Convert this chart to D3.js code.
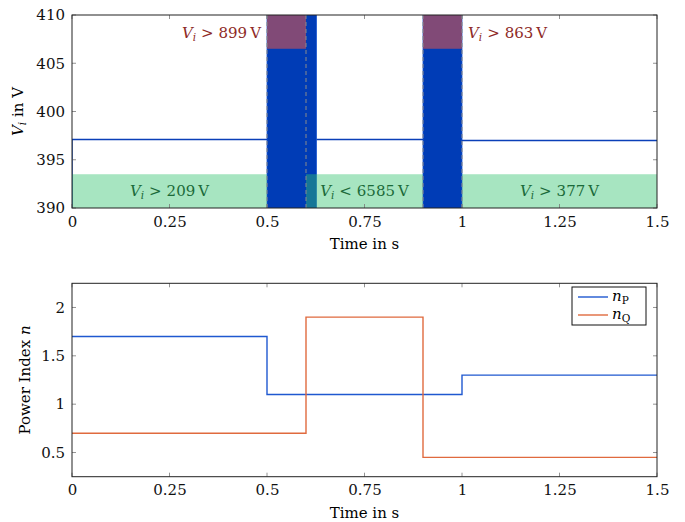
<!DOCTYPE html>
<html>
<head>
<meta charset="utf-8">
<script src="https://cdn.jsdelivr.net/npm/d3@7"></script>
<style>
  body { margin: 0; background: #fff; }
</style>
</head>
<body>
<svg id="chart" width="685" height="522" font-family="'DejaVu Serif', serif"></svg>
<script>
// ---- data ----
const timeTicks = [0, 0.25, 0.5, 0.75, 1, 1.25, 1.5];
const voltTicks = [390, 395, 400, 405, 410];
const indexTicks = [0.5, 1, 1.5, 2];

// steady voltage trace (segments between the oscillating bursts)
const voltSegments = [
  [[0, 380], [0, 397.1], [0.5, 397.1]],
  [[0.627, 397.1], [0.9, 397.1]],
  [[1.0, 397.0], [1.5, 397.0]]
];
// oscillation bursts: start, end, min, max
const burstStart = [0.5, 0.9];
const burstEnd = [0.627, 1.0];
const burstMin = [380, 380];
const burstMax = [420, 420];

// limit bands (lower: green, upper: red)
const lowerStart = [0, 0.6, 1.0];
const lowerEnd = [0.5, 0.9, 1.5];
const lowerOp = [">", "<", ">"];
const lowerValue = [209, 6585, 377];
const lowerTop = 393.5;

const upperStart = [0.5, 0.9];
const upperEnd = [0.6, 1.0];
const upperValue = [899, 863];
const upperBottom = 406.5;

const eventTimes = [0.5, 0.6, 0.9, 1.0];

// power index steps
const stepTimes = [0, 0.5, 0.6, 0.9, 1.0, 1.5];
const nP = [1.7, 1.1, 1.1, 1.1, 1.3, 1.3];
const nQ = [0.7, 0.7, 1.9, 0.45, 0.45, 0.45];

// ---- layout ----
const FONT = "'DejaVu Serif', serif";
const FS = 15;
const SUB = 10.5;
const svg = d3.select("#chart");
const left = 72, right = 657;
const top1 = 15, bot1 = 208;
const top2 = 283.3, bot2 = 476.7;
const blue = "#0a3fb8", orange = "#e06a3e", lineBlue = "#1f58d0";

const x = d3.scaleLinear().domain([0, 1.5]).range([left, right]);
const y1 = d3.scaleLinear().domain([390, 410]).range([bot1, top1]);
const y2 = d3.scaleLinear().domain([0.25, 2.25]).range([bot2, top2]);

const defs = svg.append("defs");
defs.append("clipPath").attr("id", "clip1").append("rect")
  .attr("x", left).attr("y", top1).attr("width", right - left).attr("height", bot1 - top1);
defs.append("clipPath").attr("id", "clip2").append("rect")
  .attr("x", left).attr("y", top2).attr("width", right - left).attr("height", bot2 - top2);

function frame(yScale, yTicks, top, bot) {
  const tk = 4;
  const g = svg.append("g");
  // tick labels
  const xb = g.append("g").attr("transform", `translate(0,${bot})`)
    .call(d3.axisBottom(x).tickValues(timeTicks).tickFormat(d3.format("~g")).tickSize(0).tickPadding(8));
  xb.select(".domain").remove();
  const yl = g.append("g").attr("transform", `translate(${left},0)`)
    .call(d3.axisLeft(yScale).tickValues(yTicks).tickFormat(d3.format("~g")).tickSize(0).tickPadding(7));
  yl.select(".domain").remove();
  [xb, yl].forEach(a => a.attr("font-family", FONT).attr("font-size", FS)
    .selectAll("text").attr("fill", "#111"));
  // inward ticks on all four sides
  const tg = g.append("g").attr("stroke", "#777").attr("stroke-width", 0.8);
  timeTicks.forEach(t => {
    tg.append("line").attr("x1", x(t)).attr("x2", x(t)).attr("y1", bot).attr("y2", bot - tk);
    tg.append("line").attr("x1", x(t)).attr("x2", x(t)).attr("y1", top).attr("y2", top + tk);
  });
  yTicks.forEach(v => {
    tg.append("line").attr("x1", left).attr("x2", left + tk).attr("y1", yScale(v)).attr("y2", yScale(v));
    tg.append("line").attr("x1", right).attr("x2", right - tk).attr("y1", yScale(v)).attr("y2", yScale(v));
  });
  g.append("rect").attr("x", left).attr("y", top).attr("width", right - left).attr("height", bot - top)
    .attr("fill", "none").attr("stroke", "#222").attr("stroke-width", 1);
  g.append("text").attr("font-family", FONT).attr("font-size", FS)
    .attr("x", (left + right) / 2).attr("y", bot + 41)
    .attr("text-anchor", "middle").text("Time in s");
  return g;
}

function viLabel(sel, op, value) {
  sel.append("tspan").attr("font-style", "italic").text("V");
  sel.append("tspan").attr("font-style", "italic").attr("font-size", SUB).attr("dy", 3).text("i");
  sel.append("tspan").attr("dy", -3).text(`\u2004${op}\u2004${value}\u2009V`);
}

// ---- top plot ----
const p1 = svg.append("g").attr("clip-path", "url(#clip1)");

p1.selectAll(".burst").data(burstStart).join("rect")
  .attr("x", (d) => x(d))
  .attr("width", (d, i) => x(burstEnd[i]) - x(d))
  .attr("y", (d, i) => y1(burstMax[i]))
  .attr("height", (d, i) => y1(burstMin[i]) - y1(burstMax[i]))
  .attr("fill", "#003cb6").attr("stroke", lineBlue).attr("stroke-width", 0.8);

const line1 = d3.line().x(d => x(d[0])).y(d => y1(d[1]));
p1.selectAll(".seg").data(voltSegments).join("path")
  .attr("d", line1).attr("fill", "none").attr("stroke", blue).attr("stroke-width", 1.4);

p1.selectAll(".low").data(lowerStart).join("rect")
  .attr("x", d => x(d)).attr("width", (d, i) => x(lowerEnd[i]) - x(d))
  .attr("y", y1(lowerTop)).attr("height", y1(390) - y1(lowerTop))
  .attr("fill", "#33c26f").attr("fill-opacity", 0.43);

p1.selectAll(".up").data(upperStart).join("rect")
  .attr("x", d => x(d)).attr("width", (d, i) => x(upperEnd[i]) - x(d))
  .attr("y", y1(410)).attr("height", y1(upperBottom) - y1(410))
  .attr("fill", "#814a77");

p1.selectAll(".evt").data(eventTimes).join("line")
  .attr("x1", d => x(d)).attr("x2", d => x(d)).attr("y1", top1).attr("y2", bot1)
  .attr("stroke", "#8a8a8a").attr("stroke-width", 1).attr("stroke-dasharray", "4,3");

frame(y1, voltTicks, top1, bot1);

svg.append("text").attr("font-family", FONT).attr("font-size", FS)
  .attr("transform", `translate(23,${(top1 + bot1) / 2}) rotate(-90)`)
  .attr("text-anchor", "middle")
  .call(s => {
    s.append("tspan").attr("font-style", "italic").text("V");
    s.append("tspan").attr("font-style", "italic").attr("font-size", SUB).attr("dy", 3).text("i");
    s.append("tspan").attr("dy", -3).text(" in V");
  });

// lower band labels
lowerStart.forEach((s, i) => {
  svg.append("text").attr("font-family", FONT).attr("font-size", FS)
    .attr("x", x((s + lowerEnd[i]) / 2)).attr("y", y1((390 + lowerTop) / 2) + 5)
    .attr("text-anchor", "middle").attr("fill", "#1b6a39")
    .call(t => viLabel(t, lowerOp[i], lowerValue[i]));
});
// upper band labels
svg.append("text").attr("font-family", FONT).attr("font-size", FS)
  .attr("x", x(upperStart[0]) - 6).attr("y", y1((410 + upperBottom) / 2) + 6)
  .attr("text-anchor", "end").attr("fill", "#8e2a26")
  .call(t => viLabel(t, ">", upperValue[0]));
svg.append("text").attr("font-family", FONT).attr("font-size", FS)
  .attr("x", x(upperEnd[1]) + 6).attr("y", y1((410 + upperBottom) / 2) + 6)
  .attr("text-anchor", "start").attr("fill", "#8e2a26")
  .call(t => viLabel(t, ">", upperValue[1]));

// ---- bottom plot ----
const p2 = svg.append("g").attr("clip-path", "url(#clip2)");
const step = (vals) => d3.line().curve(d3.curveStepAfter)
  .x((d, i) => x(stepTimes[i])).y(d => y2(d))(vals);
p2.append("path").attr("d", step(nP)).attr("fill", "none").attr("stroke", lineBlue).attr("stroke-width", 1.4);
p2.append("path").attr("d", step(nQ)).attr("fill", "none").attr("stroke", orange).attr("stroke-width", 1.4);

frame(y2, indexTicks, top2, bot2);

svg.append("text").attr("font-family", FONT).attr("font-size", FS)
  .attr("transform", `translate(30,${(top2 + bot2) / 2}) rotate(-90)`)
  .attr("text-anchor", "middle")
  .call(s => {
    s.append("tspan").text("Power Index ");
    s.append("tspan").attr("font-style", "italic").text("n");
  });

// legend
const legendNames = ["P", "Q"];
const legendColors = [lineBlue, orange];
const lg = svg.append("g").attr("transform", "translate(572,287)");
lg.append("rect").attr("width", 74).attr("height", 38).attr("fill", "#fff").attr("stroke", "#111").attr("stroke-width", 1);
legendNames.forEach((n, i) => {
  const yy = 10 + i * 18;
  lg.append("line").attr("x1", 6).attr("x2", 36).attr("y1", yy).attr("y2", yy)
    .attr("stroke", legendColors[i]).attr("stroke-width", 1.4);
  const t = lg.append("text").attr("font-family", FONT).attr("x", 40).attr("y", yy + 4).attr("font-size", FS);
  t.append("tspan").attr("font-style", "italic").text("n");
  t.append("tspan").attr("font-size", SUB).attr("dy", 3).text(n);
});
</script>
</body>
</html>
